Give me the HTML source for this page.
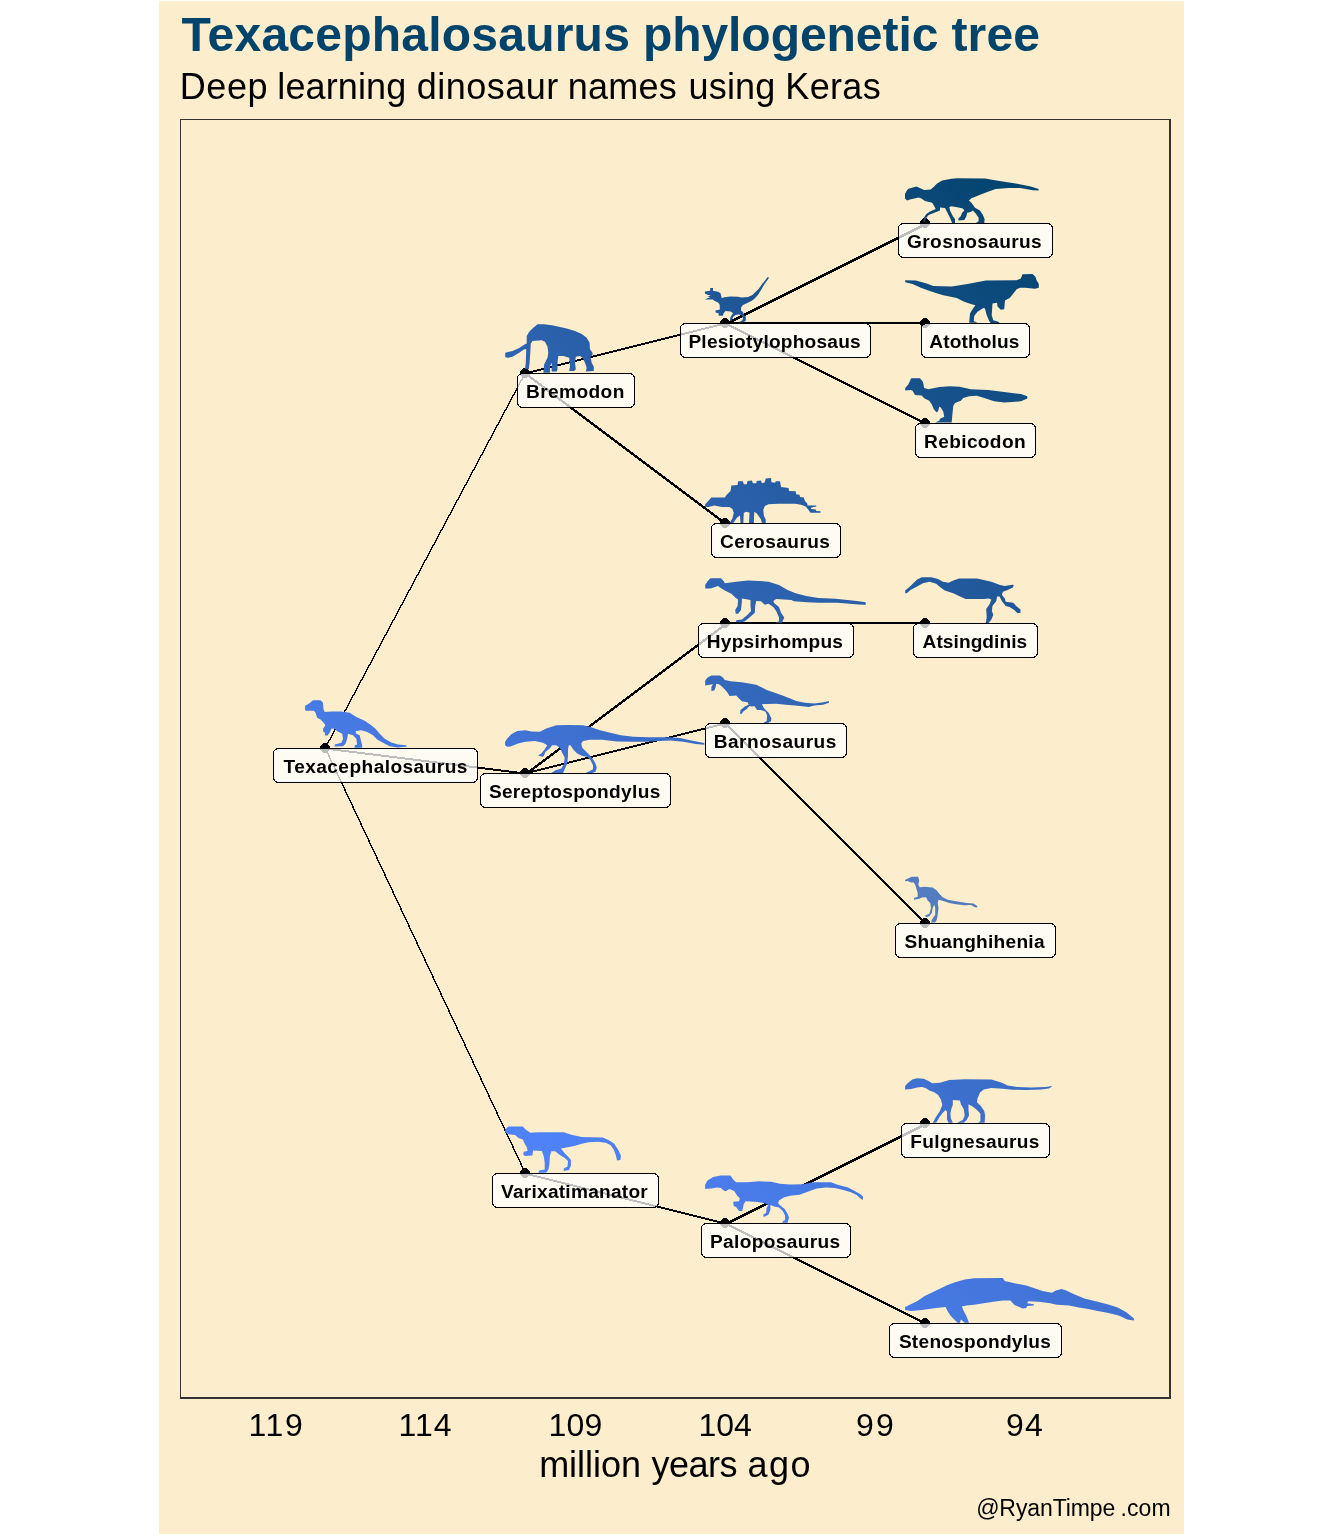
<!DOCTYPE html>
<html><head><meta charset="utf-8"><title>Texacephalosaurus phylogenetic tree</title>
<style>
html,body{margin:0;padding:0;background:#fff;}
body{width:1344px;height:1536px;overflow:hidden;position:relative;font-family:"Liberation Sans",sans-serif;}
svg{position:absolute;left:0;top:0;}
text{font-family:"Liberation Sans",sans-serif;}
</style></head><body>
<svg width="1344" height="1536" viewBox="0 0 1344 1536">

<defs><linearGradient id="sg" gradientUnits="userSpaceOnUse" x1="1000" y1="200" x2="300" y2="900"><stop offset="0" stop-color="#054571"/><stop offset="0.25" stop-color="#1d5695"/><stop offset="0.5" stop-color="#3166b7"/><stop offset="0.75" stop-color="#4274d8"/><stop offset="1" stop-color="#4f82f7"/></linearGradient></defs>
<rect x="159" y="1" width="1025" height="1533" fill="#FCEDCC"/>
<g fill="#333"><rect x="180" y="119" width="991" height="1"/><rect x="180" y="119" width="1" height="1280"/><rect x="1169" y="119" width="2" height="1280"/><rect x="180" y="1397" width="991" height="2"/></g>
<g fill="#000" shape-rendering="crispEdges">
<polygon points="324.5,748 326,748 526,373 524.5,373"/>
<polygon points="325,747.5 525,772.5 525,774.5 325,749.5"/>
<polygon points="324.5,748 326,748 526,1173 524.5,1173"/>
<polygon points="525,372.5 725,322.5 725,324.5 525,374.5"/>
<polygon points="525,371.75 725,521.75 725,524.75 525,374.75"/>
<polygon points="725,323 925,223 925,226 725,326"/>
<polygon points="725,322 925,322 925,324 725,324"/>
<polygon points="725,322 925,422 925,424.5 725,324.5"/>
<polygon points="525,773.25 725,623.25 725,626.25 525,776.25"/>
<polygon points="525,772.5 725,722.5 725,724.5 525,774.5"/>
<polygon points="725,622 925,622 925,624 725,624"/>
<polygon points="725,721.5 925,921.5 925,924.5 725,724.5"/>
<polygon points="525,1172.5 725,1222.5 725,1224.5 525,1174.5"/>
<polygon points="725,1223 925,1123 925,1126 725,1226"/>
<polygon points="725,1222 925,1322 925,1324.5 725,1224.5"/>
</g>
<g fill="#000" shape-rendering="crispEdges">
<polygon points="323.5,743 326.5,743 330,746.5 330,749.5 326.5,753 323.5,753 320,749.5 320,746.5"/>
<polygon points="523.5,368 526.5,368 530,371.5 530,374.5 526.5,378 523.5,378 520,374.5 520,371.5"/>
<polygon points="523.5,768 526.5,768 530,771.5 530,774.5 526.5,778 523.5,778 520,774.5 520,771.5"/>
<polygon points="523.5,1168 526.5,1168 530,1171.5 530,1174.5 526.5,1178 523.5,1178 520,1174.5 520,1171.5"/>
<polygon points="723.5,318 726.5,318 730,321.5 730,324.5 726.5,328 723.5,328 720,324.5 720,321.5"/>
<polygon points="723.5,518 726.5,518 730,521.5 730,524.5 726.5,528 723.5,528 720,524.5 720,521.5"/>
<polygon points="723.5,618 726.5,618 730,621.5 730,624.5 726.5,628 723.5,628 720,624.5 720,621.5"/>
<polygon points="723.5,718 726.5,718 730,721.5 730,724.5 726.5,728 723.5,728 720,724.5 720,721.5"/>
<polygon points="723.5,1218 726.5,1218 730,1221.5 730,1224.5 726.5,1228 723.5,1228 720,1224.5 720,1221.5"/>
<polygon points="923.5,218 926.5,218 930,221.5 930,224.5 926.5,228 923.5,228 920,224.5 920,221.5"/>
<polygon points="923.5,318 926.5,318 930,321.5 930,324.5 926.5,328 923.5,328 920,324.5 920,321.5"/>
<polygon points="923.5,418 926.5,418 930,421.5 930,424.5 926.5,428 923.5,428 920,424.5 920,421.5"/>
<polygon points="923.5,618 926.5,618 930,621.5 930,624.5 926.5,628 923.5,628 920,624.5 920,621.5"/>
<polygon points="923.5,918 926.5,918 930,921.5 930,924.5 926.5,928 923.5,928 920,924.5 920,921.5"/>
<polygon points="923.5,1118 926.5,1118 930,1121.5 930,1124.5 926.5,1128 923.5,1128 920,1124.5 920,1121.5"/>
<polygon points="923.5,1318 926.5,1318 930,1321.5 930,1324.5 926.5,1328 923.5,1328 920,1324.5 920,1321.5"/>
</g>
<g id="sil-over" fill="url(#sg)">
<path d="M305.1 705.8 L308.8 703.7 L313 700.3 L320.5 700.2 L323 702.8 L323.4 708.7 L324.7 712 L331.3 711.6 L341.3 711.6 L349.7 712.8 L356.3 717 L364.7 720.8 L371.3 725.3 L375.5 728.7 L379.7 733.7 L384.7 738.7 L391.3 742.4 L398 744.5 L406.3 745.3 L406.8 746.6 L398 747.4 L389.7 746.2 L383 742.8 L377.2 739.5 L373 735.3 L367.2 732 L361.3 730.3 L355.5 731.2 L356.3 733.7 L359.7 735.3 L361.3 742 L362.2 745.3 L362.2 747.7 L354.7 747.7 L354.7 745.3 L357.2 744.5 L356.3 738.7 L353 735.3 L348 733.7 L347.2 738.7 L345.5 743.7 L343 746.2 L334.7 746.6 L334.7 744.5 L341.3 742.8 L343 738.7 L342.2 733.7 L337.2 731.2 L334.7 728.7 L331.3 728.7 L329.7 732.8 L327.2 735.8 L324.7 735.3 L325.1 732.8 L323.4 732 L323 728.7 L325.5 725.3 L323 722 L320.5 719.5 L317.2 717.8 L315.5 712.8 L313.8 710.8 L306.3 710.8 L305.1 710.3Z"/>
<path d="M505.2 352.7 L512.5 351 L519.2 348.1 L525 344.3 L526.7 343.5 L526.7 336 L529.2 331.8 L533.3 327.7 L537.5 324.3 L544.2 324.2 L553.3 325.6 L566.7 328.5 L575 331 L581.7 333.9 L586.7 337.7 L589.6 342.7 L590 349.3 L592.5 352.7 L592.5 355.2 L590.4 356.8 L591.7 362.7 L593.8 366.8 L593.8 371 L585.8 371.4 L586.7 367.7 L585 362.7 L582.5 357.7 L580 356 L575.8 356.8 L575 362.7 L575.8 369.3 L574.2 371 L569.2 371 L570 366 L569.2 357.7 L563.3 356 L558.3 356 L557.5 362.7 L557.5 369.3 L556.7 371.4 L551.7 371.4 L551.7 366 L552.1 362.7 L550 366 L550 372.7 L543.3 372.7 L544.2 364.3 L547.5 357.7 L548.3 352.7 L547.5 346.8 L545 341.8 L541.7 340.2 L532.5 341 L530.8 343.5 L530.4 351 L529.6 362.7 L528.8 369.3 L525 369.3 L525.8 362.7 L526.2 349.3 L524.2 349.3 L519.2 352.7 L512.5 356.8 L508.3 357.7 L505.2 357.2Z"/>
<path d="M505.1 741.8 L507.2 738.5 L511.3 734.3 L517.2 731 L525.5 730.3 L531.3 731.4 L539.7 731.8 L546.3 728.5 L556.3 725.3 L569.7 725 L583 725.3 L589.7 726.8 L600 730.2 L608.3 732.2 L620.8 735.2 L633.3 736.8 L650 737.2 L669.2 737.2 L680 738.1 L690 740.2 L704.2 743.1 L704.6 744.8 L695.8 743.9 L683.3 741.8 L670.8 740.6 L658.3 741 L645.8 741.8 L633.3 741.8 L616.7 741.4 L602.2 739.8 L589.7 739.8 L583 741 L581.3 743.5 L582.2 747.7 L585.5 751 L589.7 755.2 L593 759.3 L595.5 763.5 L596.8 767.7 L595.5 771.8 L592.2 773.1 L585.5 773.1 L589.7 771 L593 769.3 L593 765.2 L590.5 760.2 L587.2 756.8 L582.2 756 L577.2 753.5 L573 749.3 L570.5 745.2 L568.8 745.2 L568 749.3 L568 756 L567.2 763.5 L564.7 769.3 L563 773.1 L551.3 773.1 L555.5 770.2 L561.3 768.5 L563.8 764.3 L564.7 757.7 L562.2 752.7 L559.7 747.7 L556.3 745.2 L552.2 745.2 L549.7 748.5 L545.5 751.8 L543.8 756 L542.2 756.8 L538 755.6 L541.3 753.5 L544.7 749.3 L547.2 745.2 L543 742.7 L534.7 741 L525.5 741.8 L518 743.5 L510.5 746.4 L507.2 746.8 L505.1 745.2Z"/>
<path d="M505.1 1129.4 L508.5 1126.6 L522.8 1126.4 L525.6 1129.4 L530.4 1132.8 L538 1132.3 L563.7 1132.3 L571.3 1134.7 L581.8 1137 L602.8 1137.5 L609.4 1140.4 L614.2 1143.7 L618 1149.4 L620.9 1155.6 L620.4 1159.9 L617 1160.4 L616.1 1156.1 L613.7 1149.4 L610.4 1145.1 L605.6 1142.8 L598 1141.8 L588.5 1142.3 L581.8 1143.7 L574.2 1146.1 L566.6 1147.5 L560.9 1148.5 L564.7 1153.2 L568.5 1157 L570.9 1159.9 L570.9 1165.6 L569 1169.9 L563.7 1170.9 L563.7 1168.5 L567.5 1166.6 L568 1160.9 L564.7 1158 L559.9 1155.1 L555.1 1151.3 L551.3 1151.3 L549.9 1156.1 L549.4 1163.7 L548.5 1169.4 L546.1 1172.8 L538.5 1172.8 L539 1170.4 L544.7 1169.4 L544.7 1162.8 L543.7 1156.1 L541.8 1150.9 L533.2 1150.4 L532.3 1155.6 L524.7 1156.1 L523.2 1154.2 L523.7 1151.8 L527.5 1150.9 L527 1147.5 L524.7 1143.7 L522.8 1139.4 L518.5 1138 L515.1 1135.1 L508.5 1134.2 L505.1 1132.3Z"/>
<path d="M704.9 291.4 L710.2 290.8 L710.2 288.1 L713 288.1 L713 290.8 L718 291.7 L720.5 293.2 L721.8 298.2 L724.2 297.3 L730.5 296.4 L738 296.7 L741.8 297.6 L748 297 L752.4 295.1 L755.5 292 L758.6 288.9 L761.8 284.5 L764.9 280.8 L767.4 277.3 L768.9 277.3 L768.3 278.9 L765.8 282.3 L763.6 285.4 L761.1 289.8 L758.6 293.9 L756.1 297 L754.2 298.9 L751.8 300.8 L746.8 303.2 L743 305.1 L741.1 307.6 L741.1 310.8 L743 312 L744.2 315.8 L745.8 316.4 L745.8 320.8 L743 322.6 L738.6 322.3 L741.8 320.8 L743 318.9 L741.8 315.1 L738 314.5 L735.5 315.1 L733 317 L731.8 320.8 L729.9 320.8 L730.5 317 L733 313.2 L730.5 311.4 L725.5 311.1 L723.6 313.2 L723 315.8 L718.6 315.8 L718.6 313.2 L715.5 312.6 L715.5 310.4 L719.9 309.5 L719.6 304.5 L718 302.6 L714.2 300.8 L713 299.5 L704.9 299.5 L707.4 298.2 L710.5 297.3 L707.4 296.7 L710.8 295.4 L707.4 294.8 L704.9 293.6Z"/>
<path d="M705.2 504.2 L711.4 497.5 L724.8 497.5 L726.7 494.7 L730.5 490.9 L731.4 485.6 L737.6 485.1 L738.1 481.3 L742.9 481.3 L743.8 484.2 L746.7 484.2 L747.6 480.9 L751.9 480.4 L752.9 483.2 L756.2 483.2 L756.7 480.9 L761 480.4 L761.9 483.2 L764.8 482.3 L765.7 478.5 L771 478 L771.4 482.3 L775.2 482.8 L775.7 481.3 L780 481.3 L781 487 L788.6 488 L789 490.9 L795.7 491.3 L796.2 494.2 L799.5 494.7 L800 497 L803.8 497.5 L804.8 500.9 L807.1 503.2 L807.6 505.6 L816.2 505.6 L816.2 506.6 L811.4 507.5 L811 509 L815.7 509.4 L816.2 510.9 L820.5 511.3 L820.5 512.8 L810.5 512.8 L808.6 509.9 L805.7 506.6 L801 504.7 L795.2 503.7 L778.1 503.7 L768.6 504.2 L764.8 506.1 L763.3 509.9 L763.8 515.6 L765.7 519.4 L765.7 523 L761.9 523 L761 519.4 L757.1 513.7 L754.3 511.8 L753.8 523 L749 523 L749.5 512.8 L746.7 511.8 L743.8 512.8 L743.3 523 L740.5 523 L740 515.6 L737.1 517.5 L733.3 523 L729.5 523 L732.4 518.5 L733.8 512.8 L732.4 509 L729.5 507 L721.9 507 L714.3 505.6 L708.6 507 L705.2 507Z"/>
<path d="M705.2 584.7 L707.6 581.3 L710.5 578.3 L721 578.3 L723.8 581.3 L724.8 583.2 L736.2 581.8 L747.6 580.4 L759 580.9 L768.6 581.8 L779 585.1 L787.6 589.9 L795.7 593.2 L806.2 596.1 L818.6 598 L835.7 598.7 L856.7 600.9 L865.7 602.3 L865.7 604.7 L858.6 604.4 L837.6 602.8 L818.6 602.8 L807.1 602.3 L793.8 601.3 L791.4 599.9 L776.2 599 L773.3 600.9 L774.3 603.2 L779 607 L781 612.8 L784.3 617.5 L781.9 622.8 L775.2 622.8 L779 621.3 L779 617.5 L776.2 610.9 L773.3 607 L768.6 603.7 L764.8 604.7 L761 601.3 L756.2 600.9 L755.2 606.1 L754.8 612.8 L749.5 617.5 L744.8 621.3 L741.9 622.3 L736.2 622.3 L736.2 620.2 L741.9 619.4 L747.6 614.7 L751 610.9 L750.5 606.1 L750.5 599.9 L744.8 599 L741.9 598.5 L741.9 601.3 L741 609.9 L738.1 613.7 L735.7 613.7 L735.2 609.9 L737.6 606.1 L738.1 599.4 L735.2 597.5 L731.4 593.7 L724.8 590.4 L720 587.5 L718.1 586.1 L710.5 588.5 L705.2 588.5Z"/>
<path d="M705.2 680.4 L707.6 677.5 L711.4 675.4 L720 675.4 L722.9 677.5 L724.8 679.9 L730.5 681.3 L741.9 682.3 L756.2 684.7 L766.7 689.9 L776.2 693.2 L783.8 696.1 L791.4 699 L796.2 700.9 L804.8 702.8 L814.3 703.4 L823.8 702.3 L828.9 700.9 L828.9 702.8 L822.9 704.7 L814.3 705.6 L808.6 707 L804.8 706.6 L795.2 705.6 L785.7 704.7 L776.2 703.7 L765.7 704 L761.9 704.2 L763.8 708 L766.7 710.9 L768.6 712.8 L770 715.6 L771.4 718.5 L771 721.3 L768.1 723 L763.3 723 L766.7 720.9 L767.1 715.6 L765.7 711.8 L761 709.9 L757.1 709.9 L754.3 706.1 L751.9 706.6 L749.5 706.1 L746.7 709 L742.9 711.8 L741.9 713.7 L740 713.7 L740.5 709.9 L744.8 706.6 L748.6 704.7 L747.6 702.3 L741.9 701.3 L739 698.5 L736.2 695.6 L729.5 696.1 L727.6 692.8 L724.8 689.4 L721.9 686.6 L719 684.2 L716.2 683.7 L715.7 687 L714.3 690.4 L711.4 690.9 L711.4 687 L712.9 684.2 L709.5 684.7 L705.2 685.6Z"/>
<path d="M705.1 1184.7 L707.5 1180.4 L713.2 1177 L720.9 1175.4 L730.4 1175.6 L733.2 1179.4 L736.1 1182.3 L747.5 1182.3 L759 1181.3 L771.3 1181.8 L779.9 1183.7 L790 1184.4 L802.4 1184.2 L813.8 1182.3 L831 1182.3 L837.6 1184.7 L848.1 1187.5 L854.8 1190.9 L860.5 1194.2 L862.9 1196.6 L862.9 1199.9 L860.5 1198.5 L856.7 1195.1 L851 1192.3 L843.3 1189.9 L834.8 1188 L826.2 1187.5 L816.7 1188.5 L809 1191.3 L799.5 1194.7 L790 1195.8 L783.7 1197.5 L779 1200.4 L778 1203.2 L780.9 1206.1 L784.7 1209 L787.5 1213.7 L789 1217.5 L787.5 1222.8 L782.3 1222.8 L782.8 1221.3 L785.1 1219.9 L785.1 1215.6 L782.8 1210.9 L779 1207.5 L774.2 1206.6 L770.4 1205.1 L770.4 1209.9 L768.5 1214.7 L763.7 1217 L763.2 1214.7 L766.1 1212.8 L766.6 1208 L768.5 1205.1 L764.7 1203.2 L755.1 1201.8 L745.6 1201.3 L743.7 1204.2 L742.3 1210.9 L739 1210.9 L736.1 1207 L733.7 1206.1 L733.2 1201.8 L739 1201.3 L739.9 1198.5 L737 1195.6 L734.2 1190.9 L729.4 1189 L725.6 1191.3 L723.7 1190.4 L720.9 1188 L717 1187.5 L711.3 1188.5 L705.1 1189Z"/>
<path d="M905 194.1 L907.1 189.9 L908.6 188.8 L916.4 186.6 L921.4 188.8 L924.3 189.9 L930.7 189.5 L933.6 187 L937.1 183.4 L942.1 180.6 L951.4 178.8 L957.1 178.3 L985 178.4 L996.4 180.6 L1015.7 183.4 L1030.7 186.6 L1038.6 189.1 L1038.6 190.6 L1032.9 190.2 L1020 188.1 L1008.6 188.1 L995.7 189.1 L988.6 191.6 L980.7 194.5 L972.9 197.7 L972.1 197.7 L968.9 200.6 L971.4 202.7 L975 207.7 L980 210.6 L982.9 214.9 L984.6 219.1 L984.3 223.1 L975.7 223.1 L978.6 221.3 L978.6 217.7 L975.7 213.4 L972.9 210.6 L970.7 212 L967.1 212.7 L966.4 216.3 L964.3 219.9 L958.6 220.6 L958.2 218.8 L960.7 216.3 L962.1 212.7 L964.3 210.6 L962.9 208.4 L958.6 207.4 L951.4 206.3 L949.3 207 L950 210.6 L952.9 216.3 L955 219.1 L955 223.1 L952.1 223.1 L950 217.7 L947.1 212 L945 208.1 L940 207.4 L940 210.6 L934.3 212.7 L928.6 214.9 L926.4 217.7 L925 222 L923.6 222 L923.9 217.7 L926.4 214.1 L930 211.6 L935.7 209.1 L934.3 206.3 L932.1 202.7 L925 200.9 L921.4 198.4 L918.6 197.4 L910 199.5 L907.1 200.6 L905 198.4Z"/>
<path d="M905.2 280.3 L915.8 280.6 L926.7 283.5 L933.3 286 L951.7 286.4 L967.5 283.9 L985.8 280.6 L1016.7 280.3 L1020.8 278.5 L1022.5 274.3 L1032.5 273.9 L1035.4 276.8 L1036.7 280.6 L1038.8 283.9 L1038.8 287.7 L1035 288.7 L1025 287.8 L1020 287.8 L1016.7 289.3 L1013.3 293.5 L1010 297.7 L1005 300.6 L1004.2 309.3 L1000.8 309.8 L997.5 306.4 L997.1 302.7 L992.5 303.5 L991.7 315.2 L993.3 320.2 L998.3 321.8 L999.6 323.1 L990.8 323.1 L989.6 321.8 L986.7 315.2 L985 308.5 L983.3 308.1 L977.5 311.8 L974.2 316 L973.8 321 L977.5 322.7 L969.2 322.7 L970 313.5 L972.5 309.3 L975.4 305.2 L970.8 303.9 L964.2 301.8 L956.7 298.1 L943.3 295.2 L935.8 293.1 L928.3 290.6 L920.8 287.7 L912.5 283.9 L905.2 282.2Z"/>
<path d="M905.2 387.9 L908.3 384.6 L911.2 378.3 L920 378.2 L922.9 381.7 L924.2 387.9 L928.3 389.2 L939.2 387.1 L950 386.2 L959.6 386.7 L970.8 389.2 L988.3 390 L1012 392.9 L1021 394 L1027.3 396.2 L1027.3 398.5 L1021 401.3 L1012 402.1 L1004.2 402.5 L994.2 401.2 L984.2 397.9 L976.7 395.8 L969.2 396.2 L963.3 397.9 L960.8 400.8 L955 402.9 L953.3 405.8 L952.5 413.3 L951.7 422.5 L935 422.5 L939.2 420.8 L940 418.8 L944.2 416.7 L943.3 411.7 L940.8 407.5 L939.2 406.7 L938.3 410.8 L936.7 412.5 L933.8 409.2 L931.7 404.2 L929.2 400.8 L924.2 398.3 L921.7 395.4 L915 395 L912.5 390.8 L910.8 390 L905.2 390.4Z"/>
<path d="M905.2 590.4 L910.5 586.1 L917.1 579.4 L921.9 577.3 L931.4 577.3 L938.1 579 L942.9 581.8 L948.6 582.8 L953.3 580.4 L959 578.5 L977.1 578.5 L991.4 581.8 L1000 585.1 L1004.8 586.1 L1012.4 584.7 L1013.8 585.1 L1012.9 587.5 L1007.6 589.9 L1002.9 591.8 L1001.9 594.7 L1004.8 598.5 L1005.7 601.8 L1013.3 602.8 L1016.2 606.1 L1020.5 609.4 L1020.5 612.8 L1017.6 613.2 L1014.3 609.9 L1009.5 607 L1005.7 606.1 L1001.9 601.3 L999.5 596.6 L997.1 596.6 L996.2 601.3 L992.4 606.1 L991.9 610.9 L993.3 614.7 L991.4 619.4 L988.6 623 L985.7 623 L986.7 617.5 L986.2 609 L989.5 604.2 L991.4 599.4 L988.6 598.5 L983.8 599 L965.7 599 L959 596.1 L953.3 593.2 L944.8 590.4 L940 587 L936.2 583.7 L929.5 581.8 L922.9 583.2 L917.1 586.6 L910.5 589.9 L906.7 593.2 L905.2 593.2Z"/>
<path d="M905 880.1 L908.5 878.2 L911.8 876.7 L918.1 876.7 L919.2 880.5 L918.3 884.7 L919.8 887.2 L924.3 886.8 L932.7 887.6 L936.8 890.5 L939.3 893.8 L942.7 897.2 L947.7 899.7 L956 901.3 L966.8 903 L973.5 903.4 L977.2 905.9 L977.2 907.6 L974.3 907 L971 904.9 L964.3 905.3 L956 904.3 L949.3 903 L943.5 900.9 L938.5 899.7 L937.7 903 L938.5 908 L937.7 914.7 L936.8 919.7 L935.2 922.6 L931 922.6 L931.8 919.7 L935.2 914.7 L935.2 908 L934.3 904.7 L932.7 908 L931.8 913 L929.3 916.3 L926 917.2 L925.2 915.5 L929.3 913.8 L931 908 L930.2 903 L927.7 900.5 L926 897.2 L921.8 897.6 L919.3 898.8 L914.3 899.7 L913.9 898 L917.7 896.8 L917.7 893 L916.4 888.8 L915.2 884.7 L913.5 882.2 L911 882.6 L908.5 881.3 L905 880.9Z" opacity="0.85"/>
<path d="M905.1 1086.1 L907.5 1083.2 L912.3 1079.4 L917 1078.3 L923.7 1078.7 L928.5 1080.9 L932.3 1083.2 L939.9 1082.8 L949.4 1079.9 L964.7 1079.2 L991.4 1079.6 L1001.9 1082.8 L1007.6 1085.6 L1017.1 1087 L1031.4 1087.5 L1045.7 1087 L1051.9 1086.1 L1051.4 1087 L1048.6 1088.5 L1041 1089.4 L1026.7 1089.9 L1012.4 1089.7 L1002.9 1088.8 L991.4 1088 L983.7 1089.4 L979.9 1092.8 L977.5 1098.5 L977 1102.3 L980.9 1106.1 L984.2 1110.9 L985.1 1115.6 L984.7 1122.8 L978 1122.8 L980.4 1120.9 L980.4 1113.7 L977 1109.9 L973.2 1107 L968.5 1104.2 L968.5 1109.9 L969 1115.6 L966.6 1119.9 L963.7 1122.8 L957 1122.8 L962.8 1119.9 L964.7 1115.6 L963.7 1109 L960.9 1104.2 L959.9 1100.4 L952.8 1099.9 L952.8 1105.1 L951.3 1109 L950.4 1113.7 L950.9 1118.5 L952.8 1122.8 L948.5 1122.8 L947 1119.4 L947 1111.8 L945.6 1109.9 L942.8 1112.8 L939.9 1116.6 L936.1 1122.8 L932.8 1122.8 L935.6 1117.5 L939.9 1110.9 L942.3 1105.1 L940.9 1099.4 L938 1094.7 L934.2 1092.3 L929.4 1090.4 L925.6 1088 L921.8 1087 L917 1087.5 L911.3 1089 L905.1 1089.4Z"/>
<path d="M905.1 1307 L917 1301.3 L924.7 1296.1 L936.1 1290.4 L947.5 1285.1 L955.1 1282.3 L964.7 1279.6 L974.2 1278.3 L1002.8 1278 L1004.7 1280.9 L1012.3 1282.8 L1026.3 1285.6 L1042.5 1290.9 L1052 1292.8 L1055.8 1290.4 L1061.5 1289.1 L1066.3 1290.4 L1073 1293.7 L1084.4 1298.5 L1097.7 1301.8 L1109.1 1304.7 L1117.7 1307.5 L1126.3 1312.3 L1133.9 1318.5 L1133.9 1320.4 L1127.2 1319.4 L1118.7 1315.6 L1107.2 1312.8 L1097.7 1310.9 L1088.2 1309 L1078.7 1307.5 L1069.1 1305.6 L1056.8 1304.7 L1050.1 1303.2 L1038.7 1301.8 L1028.2 1301.3 L1027.2 1303.2 L1033.9 1304.2 L1033.9 1305.6 L1027.2 1306.1 L1026.3 1308 L1022.5 1308.5 L1014.2 1304.7 L1010.4 1300.4 L1002.8 1300.4 L993.2 1301.8 L983.7 1303.2 L974.2 1304.7 L966.6 1305.6 L961.8 1306.6 L963.7 1310.9 L966.6 1316.6 L969 1322.8 L964.7 1322.8 L960.9 1319.4 L959.9 1322.8 L957.5 1322.8 L954.2 1319.4 L950.4 1315.6 L947.5 1310.9 L945.6 1307 L936.1 1308 L921.8 1309.9 L911.3 1310.9 L905.1 1309.9Z"/>
</g>
<rect x="273.5" y="748.5" width="204" height="34" rx="5" ry="5" fill="#fff" fill-opacity="0.74" stroke="#000" stroke-width="1" shape-rendering="crispEdges"/>
<rect x="517.5" y="373.5" width="117" height="34" rx="5" ry="5" fill="#fff" fill-opacity="0.74" stroke="#000" stroke-width="1" shape-rendering="crispEdges"/>
<rect x="480.5" y="773.5" width="190" height="34" rx="5" ry="5" fill="#fff" fill-opacity="0.74" stroke="#000" stroke-width="1" shape-rendering="crispEdges"/>
<rect x="492.5" y="1173.5" width="166" height="34" rx="5" ry="5" fill="#fff" fill-opacity="0.74" stroke="#000" stroke-width="1" shape-rendering="crispEdges"/>
<rect x="680.5" y="323.5" width="190" height="34" rx="5" ry="5" fill="#fff" fill-opacity="0.74" stroke="#000" stroke-width="1" shape-rendering="crispEdges"/>
<rect x="711.5" y="523.5" width="129" height="34" rx="5" ry="5" fill="#fff" fill-opacity="0.74" stroke="#000" stroke-width="1" shape-rendering="crispEdges"/>
<rect x="698.5" y="623.5" width="155" height="34" rx="5" ry="5" fill="#fff" fill-opacity="0.74" stroke="#000" stroke-width="1" shape-rendering="crispEdges"/>
<rect x="705.5" y="723.5" width="141" height="34" rx="5" ry="5" fill="#fff" fill-opacity="0.74" stroke="#000" stroke-width="1" shape-rendering="crispEdges"/>
<rect x="701.5" y="1223.5" width="149" height="34" rx="5" ry="5" fill="#fff" fill-opacity="0.74" stroke="#000" stroke-width="1" shape-rendering="crispEdges"/>
<rect x="898.5" y="223.5" width="154" height="34" rx="5" ry="5" fill="#fff" fill-opacity="0.74" stroke="#000" stroke-width="1" shape-rendering="crispEdges"/>
<rect x="921.5" y="323.5" width="108" height="34" rx="5" ry="5" fill="#fff" fill-opacity="0.74" stroke="#000" stroke-width="1" shape-rendering="crispEdges"/>
<rect x="915.5" y="423.5" width="120" height="34" rx="5" ry="5" fill="#fff" fill-opacity="0.74" stroke="#000" stroke-width="1" shape-rendering="crispEdges"/>
<rect x="913.5" y="623.5" width="124" height="34" rx="5" ry="5" fill="#fff" fill-opacity="0.74" stroke="#000" stroke-width="1" shape-rendering="crispEdges"/>
<rect x="895.5" y="923.5" width="160" height="34" rx="5" ry="5" fill="#fff" fill-opacity="0.74" stroke="#000" stroke-width="1" shape-rendering="crispEdges"/>
<rect x="901.5" y="1123.5" width="148" height="34" rx="5" ry="5" fill="#fff" fill-opacity="0.74" stroke="#000" stroke-width="1" shape-rendering="crispEdges"/>
<rect x="889.5" y="1323.5" width="172" height="34" rx="5" ry="5" fill="#fff" fill-opacity="0.74" stroke="#000" stroke-width="1" shape-rendering="crispEdges"/>
<text y="51" font-size="48" font-weight="bold" fill="#00436b"><tspan x="181.55" letter-spacing="0.228">Texacephalosaurus</tspan> <tspan x="642.88" letter-spacing="-0.044">phylogenetic</tspan> <tspan x="951.4" letter-spacing="0.175">tree</tspan></text>
<text y="99" font-size="36" font-weight="normal" fill="#000"><tspan x="179.7" letter-spacing="0.608">Deep</tspan> <tspan x="277.26" letter-spacing="0.134">learning</tspan> <tspan x="416.75" letter-spacing="0.481">dinosaur</tspan> <tspan x="567.86" letter-spacing="0.235">names</tspan> <tspan x="688.44" letter-spacing="0.215">using</tspan> <tspan x="785.3" letter-spacing="0.35">Keras</tspan></text>
<text x="248.55" y="1435.8" font-size="32" font-weight="normal" fill="#000" letter-spacing="1.63">119</text>
<text x="398.55" y="1435.8" font-size="32" font-weight="normal" fill="#000" letter-spacing="1.019">114</text>
<text x="548.55" y="1435.8" font-size="32" font-weight="normal" fill="#000" letter-spacing="0.224">109</text>
<text x="698.55" y="1435.8" font-size="32" font-weight="normal" fill="#000" letter-spacing="-0.105">104</text>
<text x="856.11" y="1435.8" font-size="32" font-weight="normal" fill="#000" letter-spacing="2.188">99</text>
<text x="1006.11" y="1435.8" font-size="32" font-weight="normal" fill="#000" letter-spacing="1.188">94</text>
<text y="1476.5" font-size="36" font-weight="normal" fill="#000"><tspan x="539.16" letter-spacing="-0.043">million</tspan> <tspan x="651.4" letter-spacing="-0.475">years</tspan> <tspan x="747.58" letter-spacing="1.467">ago</tspan></text>
<text y="1516" font-size="23" font-weight="normal" fill="#000"><tspan x="976.13" letter-spacing="-0.104">@RyanTimpe</tspan> <tspan x="1120.39" letter-spacing="0.143">.com</tspan></text>
<text x="283.46" y="773.3" font-size="19.1" font-weight="bold" fill="#000" letter-spacing="0.44">Texacephalosaurus</text>
<text x="525.95" y="398.3" font-size="19.1" font-weight="bold" fill="#000" letter-spacing="0.416">Bremodon</text>
<text x="488.88" y="798.3" font-size="19.1" font-weight="bold" fill="#000" letter-spacing="0.321">Sereptospondylus</text>
<text x="500.97" y="1198.3" font-size="19.1" font-weight="bold" fill="#000" letter-spacing="0.252">Varixatimanator</text>
<text x="688.4" y="348.3" font-size="19.1" font-weight="bold" fill="#000" letter-spacing="0.225">Plesiotylophosaus</text>
<text x="719.94" y="548.3" font-size="19.1" font-weight="bold" fill="#000" letter-spacing="0.435">Cerosaurus</text>
<text x="706.8" y="648.3" font-size="19.1" font-weight="bold" fill="#000" letter-spacing="0.223">Hypsirhompus</text>
<text x="713.7" y="748.3" font-size="19.1" font-weight="bold" fill="#000" letter-spacing="0.49">Barnosaurus</text>
<text x="709.95" y="1248.3" font-size="19.1" font-weight="bold" fill="#000" letter-spacing="0.361">Paloposaurus</text>
<text x="907.09" y="248.3" font-size="19.1" font-weight="bold" fill="#000" letter-spacing="0.378">Grosnosaurus</text>
<text x="929.34" y="348.3" font-size="19.1" font-weight="bold" fill="#000" letter-spacing="0.114">Atotholus</text>
<text x="924.1" y="448.3" font-size="19.1" font-weight="bold" fill="#000" letter-spacing="0.353">Rebicodon</text>
<text x="922.59" y="648.3" font-size="19.1" font-weight="bold" fill="#000" letter-spacing="0.066">Atsingdinis</text>
<text x="904.48" y="948.3" font-size="19.1" font-weight="bold" fill="#000" letter-spacing="0.268">Shuanghihenia</text>
<text x="910.2" y="1148.3" font-size="19.1" font-weight="bold" fill="#000" letter-spacing="0.369">Fulgnesaurus</text>
<text x="898.88" y="1348.3" font-size="19.1" font-weight="bold" fill="#000" letter-spacing="0.263">Stenospondylus</text>
</svg></body></html>
